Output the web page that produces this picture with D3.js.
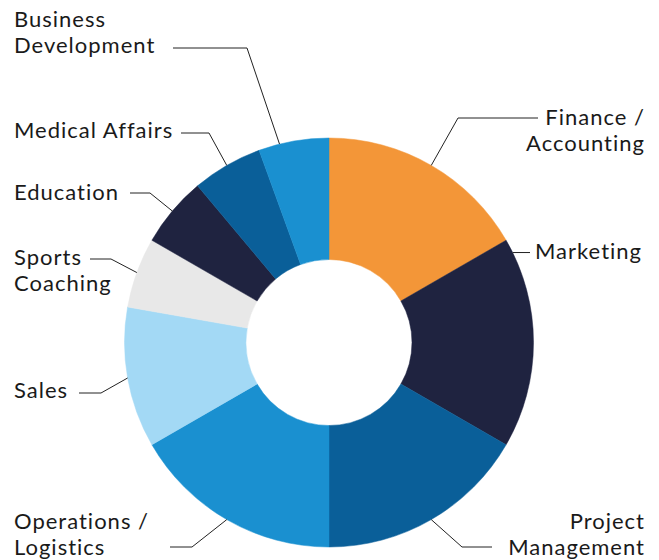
<!DOCTYPE html>
<html>
<head>
<meta charset="utf-8">
<script src="https://cdn.jsdelivr.net/npm/d3@7"></script>
<style>
  body { margin: 0; background: #fff; }
  text { font-family: Lato, "Noto Sans", sans-serif; font-size: 22px; letter-spacing: 1px; fill: #1a1a1a; }
</style>
</head>
<body>
<div id="chart"></div>
<script>
// slices, clockwise from 12 o'clock
const categories = ['Finance / Accounting', 'Marketing', 'Project Management', 'Operations / Logistics',
    'Sales', 'Sports Coaching', 'Education', 'Medical Affairs', 'Business Development'];
const values = [3, 3, 3, 3, 2, 1, 1, 1, 1];
const colors = ['#f39638', '#1f2340', '#0a5f99', '#1a90d0', '#a3d9f5', '#e8e8e8', '#1f2340', '#0a5f99', '#1a90d0'];

// label layout: text lines, anchor, text x, first baseline, elbow point, end of horizontal leader, where on slice the leader hits
const labelLayout = [
    {lines: ['Finance /', 'Accounting'], anchor: 'end', x: 645, y: 125, elbow: [458, 118], end: 538, f: 0.5},
    {lines: ['Marketing'], anchor: 'start', x: 535, y: 259, elbow: null, end: 530, f: 0.065},
    {lines: ['Project', 'Management'], anchor: 'end', x: 645, y: 529, elbow: [462, 547], end: 492, f: 0.5},
    {lines: ['Operations /', 'Logistics'], anchor: 'start', x: 14, y: 529, elbow: [192, 547], end: 170, f: 0.5},
    {lines: ['Sales'], anchor: 'start', x: 14, y: 398, elbow: [101, 393], end: 79, f: 0.5},
    {lines: ['Sports', 'Coaching'], anchor: 'start', x: 14, y: 265, elbow: [111, 259], end: 90, f: 0.5},
    {lines: ['Education'], anchor: 'start', x: 14, y: 200, elbow: [150, 193], end: 130, f: 0.5},
    {lines: ['Medical Affairs'], anchor: 'start', x: 14, y: 138, elbow: [209, 133], end: 181, f: 0.5},
    {lines: ['Business', 'Development'], anchor: 'start', x: 14, y: 27, elbow: [247, 48], end: 173, f: 0.3}
];

const svgWidth = 659;
const svgHeight = 560;
const cx = 329, cy = 342.5;
const outerR = 204.5, innerR = 83;
const lineH = 26;

const svg = d3.select('#chart').append('svg')
    .attr('width', svgWidth)
    .attr('height', svgHeight);

const g = svg.append('g').attr('transform', `translate(${cx},${cy})`);

const data = categories.map((c, i) => ({name: c, value: values[i], color: colors[i], lab: labelLayout[i]}));

const pie = d3.pie().sort(null).value(d => d.value);
const arc = d3.arc().innerRadius(innerR).outerRadius(outerR);
const arcs = pie(data);

g.selectAll('path.slice')
    .data(arcs)
    .enter()
    .append('path')
    .attr('class', 'slice')
    .attr('d', arc)
    .attr('fill', d => d.data.color)
    .attr('stroke', d => d.data.color)
    .attr('stroke-width', 0.5);

// leader lines
const lines = svg.append('g');
arcs.forEach(d => {
    const lab = d.data.lab;
    const a = d.startAngle + (d.endAngle - d.startAngle) * lab.f;
    const p0 = [cx + outerR * Math.sin(a), cy - outerR * Math.cos(a)];
    let pts;
    if (lab.elbow) {
        pts = [p0, lab.elbow, [lab.end, lab.elbow[1]]];
    } else {
        pts = [p0, [lab.end, p0[1]]];
    }
    lines.append('path')
        .attr('d', d3.line()(pts))
        .attr('fill', 'none')
        .attr('stroke', '#222')
        .attr('stroke-width', 1);
});

// labels
const labels = svg.append('g');
arcs.forEach(d => {
    const lab = d.data.lab;
    const t = labels.append('text')
        .attr('text-anchor', lab.anchor);
    lab.lines.forEach((ln, i) => {
        t.append('tspan')
            .attr('x', lab.x)
            .attr('y', lab.y + i * lineH)
            .text(ln);
    });
});
</script>
</body>
</html>
